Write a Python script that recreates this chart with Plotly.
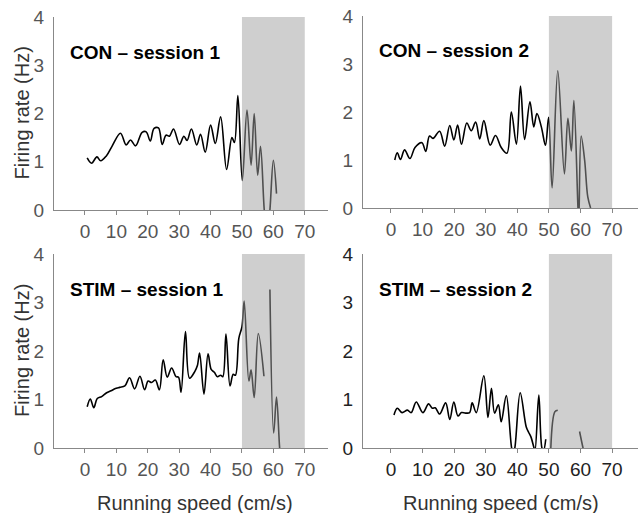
import plotly.graph_objects as go

# ---------------- data ----------------
con1_speed = [0.7, 2.1, 3.8, 5.0, 6.8, 8.6, 11.3, 13.1, 14.5, 16.1, 18.2, 19.5, 20.8, 22.0, 23.4, 24.6,
              25.8, 26.9, 28.2, 30.1, 31.5, 32.5, 33.9, 35.6, 36.8, 38.3, 40.0, 41.5, 43.2, 45.1, 46.8,
              47.6, 48.7, 50.1, 51.6, 52.9, 53.9, 55.0, 55.9, 57.1, 58.0, 58.9, 60.0, 61.0]
con1_rate = [1.08, 0.97, 1.10, 1.02, 1.12, 1.32, 1.59, 1.35, 1.45, 1.33, 1.61, 1.62, 1.43, 1.69, 1.70, 1.36,
             1.55, 1.53, 1.68, 1.36, 1.53, 1.44, 1.68, 1.35, 1.57, 1.20, 1.76, 1.38, 1.93, 0.84, 1.50,
             1.40, 2.37, 0.61, 2.07, 0.93, 2.00, 0.72, 1.32, 0.0, -0.6, 0.0, 1.03, 0.34]

con2_speed = [1.2, 2.0, 3.0, 4.3, 6.0, 7.6, 9.8, 11.0, 12.2, 13.3, 15.4, 17.0, 18.6, 19.9, 21.1, 22.3,
              24.0, 25.4, 26.8, 28.1, 29.4, 31.4, 33.1, 34.9, 36.7, 38.1, 39.7, 41.0, 42.3, 44.0, 45.2,
              46.2, 47.6, 48.9, 49.9, 51.0, 52.8, 54.9, 56.0, 57.1, 57.9, 59.2, 59.45, 60.2, 61.3, 62.3, 63.2]
con2_rate = [1.0, 1.15, 1.01, 1.21, 1.03, 1.26, 1.36, 1.18, 1.50, 1.45, 1.60, 1.29, 1.72, 1.42, 1.73, 1.33,
             1.77, 1.61, 1.79, 1.44, 1.82, 1.31, 1.51, 1.26, 1.14, 2.00, 1.33, 2.54, 1.43, 2.21, 1.69,
             1.97, 1.69, 1.31, 1.89, 0.42, 2.86, 0.71, 1.87, 1.19, 2.24, 0.0, -0.3, 1.50, 1.0, 0.23, 0.0]

stim1_speed = [0.7, 1.7, 2.8, 3.9, 5.3, 6.9, 8.3, 9.5, 11.0, 12.7, 14.2, 15.8, 17.5, 19.0, 20.1, 21.2,
               22.4, 23.7, 24.9, 26.2, 27.6, 29.0, 29.8, 30.6, 32.0, 33.3, 35.0, 35.8, 36.5, 37.9, 39.2,
               40.2, 41.2, 42.2, 43.2, 43.9, 44.9, 46.2, 47.2, 47.9, 49.0, 50.0, 50.7, 52.2, 52.9, 53.9,
               55.2, 57.0, None, 58.9, 60.1, 61.0, 62.0, 62.5]
stim1_rate = [0.85, 1.01, 0.83, 1.02, 1.06, 1.14, 1.18, 1.22, 1.25, 1.28, 1.45, 1.22, 1.48, 1.20, 1.38, 1.35,
              1.40, 1.20, 1.82, 1.46, 1.65, 1.47, 1.46, 1.15, 2.40, 1.44, 1.58, 1.70, 1.96, 1.11, 1.94,
              1.62, 1.56, 1.47, 1.50, 1.47, 2.35, 1.28, 1.52, 1.50, 2.26, 2.50, 3.03, 1.38, 1.61, 1.04,
              2.36, 1.48, None, 3.27, 0.31, 1.05, 0.0, -0.3]

stim2_speed = [0.95, 2.0, 3.5, 5.2, 6.4, 8.0, 10.1, 11.9, 13.1, 14.0, 15.4, 17.3, 18.6, 19.9, 21.2, 22.3,
               23.6, 24.9, 25.7, 27.0, 29.4, 30.7, 31.8, 32.8, 34.0, 34.9, 36.5, 38.2, 38.7, 39.2, 40.9,
               42.8, 43.6, 44.3, 45.3, 45.6, 46.8, 47.8, 48.3, 49.0,
               None, 50.6, 51.9, 52.8,
               None, 59.7, 60.8, 61.0]
stim2_rate = [0.68, 0.82, 0.73, 0.78, 0.73, 0.95, 0.73, 0.91, 0.82, 0.83, 0.70, 0.93, 0.59, 0.95, 0.66, 0.73,
              0.72, 0.73, 0.93, 0.73, 1.49, 0.63, 1.23, 0.72, 0.89, 0.54, 1.08, 0.0, -0.1, 0.0, 1.14,
              0.44, 0.32, 0.23, 0.0, -0.05, 1.09, 0.0, -0.05, 0.18,
              None, 0.0, 0.75, 0.78,
              None, 0.34, 0.0, -0.05]

panel_titles = ["CON \u2013 session 1", "CON \u2013 session 2", "STIM \u2013 session 1", "STIM \u2013 session 2"]
x_ticks = [0, 10, 20, 30, 40, 50, 60, 70]
y_ticks = [0, 1, 2, 3, 4]
shade_range = [50, 70]
y_title = "Firing rate (Hz)"
x_title = "Running speed (cm/s)"

# ---------------- figure ----------------
W, H = 638, 513
FONT = "Liberation Sans, Arial, sans-serif"

series = [(con1_speed, con1_rate), (con2_speed, con2_rate), (stim1_speed, stim1_rate), (stim2_speed, stim2_rate)]

# pixel geometry of the four panels: (left, right, top(4), bottom(0)) and x-range
geo = [
    (54, 328, 17, 210, [-9.87, 77.4]),
    (363, 638, 16, 208, [-8.86, 78.2]),
    (54, 328, 254, 448, [-9.87, 77.4]),
    (363, 638, 254, 448, [-8.86, 78.2]),
]
tick_col = ["#555555", "#555555", "#555555", "#222222"]

fig = go.Figure()
for i, ((xs, ys), (l, r, t, b, xr)) in enumerate(zip(series, geo)):
    n = "" if i == 0 else str(i + 1)
    fig.add_trace(go.Scatter(
        x=xs, y=ys, mode="lines", line=dict(color="black", width=1.6, shape="spline", smoothing=1.0),
        connectgaps=False, showlegend=False, hoverinfo="skip",
        xaxis="x" + n, yaxis="y" + n))
    fig.update_layout(**{
        "xaxis" + n: dict(domain=[l / W, r / W], range=xr, anchor="y" + n, automargin=False,
                          tickvals=x_ticks, ticks="outside", ticklen=4, tickcolor="#888888",
                          showline=True, linecolor="#888888", linewidth=1, showgrid=False, zeroline=False,
                          tickfont=dict(family=FONT, size=19, color=tick_col[i])),
        "yaxis" + n: dict(domain=[1 - b / H, 1 - t / H], range=[0, 4], anchor="x" + n, automargin=False,
                          tickvals=y_ticks, ticks="outside", ticklen=5, tickcolor="rgba(0,0,0,0)",
                          showline=True, linecolor="#888888", linewidth=1, showgrid=False, zeroline=False,
                          tickfont=dict(family=FONT, size=19, color=tick_col[i])),
    })
    fig.add_shape(type="rect", xref="x" + n, yref="y" + n, x0=shade_range[0], x1=shade_range[1],
                  y0=0, y1=4, fillcolor="rgb(160,160,160)", opacity=0.5, line=dict(width=0), layer="above")
    # panel title
    fig.add_annotation(text="<b>" + panel_titles[i] + "</b>", xref="paper", yref="paper",
                       x=(l + 14) / W, y=1 - (t + 35) / H, xanchor="left", yanchor="middle",
                       showarrow=False, font=dict(family=FONT, size=19, color="black"))

# axis titles
for (l, r, t, b, xr) in (geo[0], geo[2]):
    fig.add_annotation(text=y_title, xref="paper", yref="paper", x=22 / W, y=1 - ((t + b) / 2) / H,
                       textangle=-90, xanchor="center", yanchor="middle", showarrow=False,
                       font=dict(family=FONT, size=20, color="#333333"))
for cx in (195, 501):
    fig.add_annotation(text=x_title, xref="paper", yref="paper", x=cx / W, y=1 - 503 / H,
                       xanchor="center", yanchor="middle", showarrow=False,
                       font=dict(family=FONT, size=20, color="#333333"))

fig.update_layout(width=W, height=H, margin=dict(l=0, r=0, t=0, b=0, autoexpand=False),
                  paper_bgcolor="white", plot_bgcolor="white", showlegend=False)

fig.write_html("out.html", config={"displayModeBar": False},
               post_script="document.body.style.margin='0';document.body.style.padding='0';")
